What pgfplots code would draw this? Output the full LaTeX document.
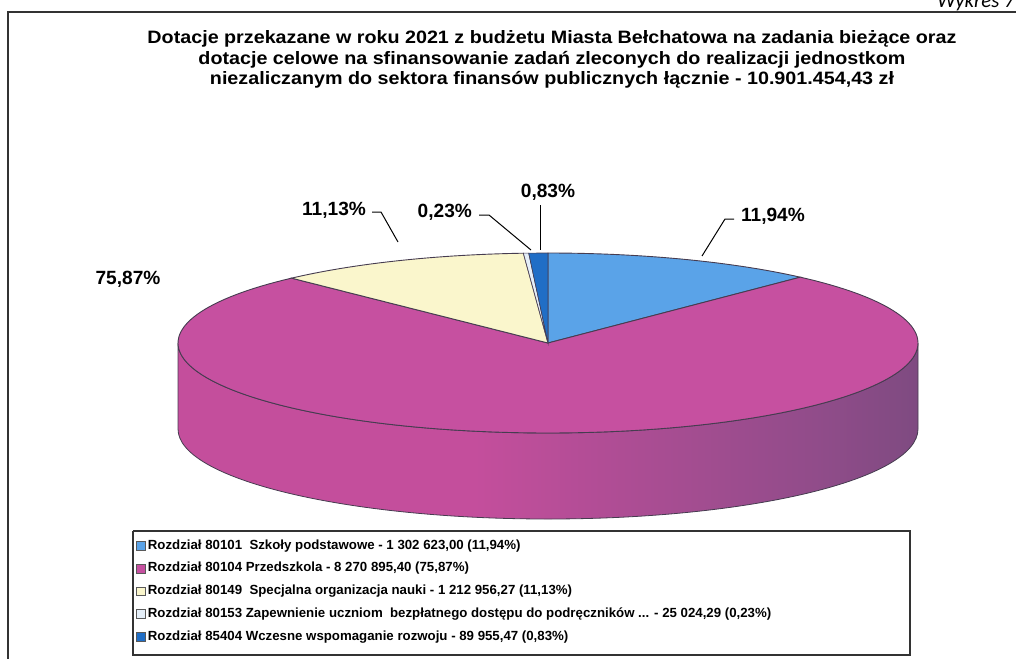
\documentclass[border=0pt]{standalone}
\usepackage{pgfplots}
\pgfplotsset{compat=1.18}
\usepackage{fontspec}
\setmainfont{Liberation Sans}
\newfontfamily\wfont{Carlito}
\definecolor{cA}{RGB}{90,163,232}
\definecolor{cB}{RGB}{198,80,160}
\definecolor{cC}{RGB}{250,246,204}
\definecolor{cD}{RGB}{228,238,248}
\definecolor{cE}{RGB}{32,110,198}
\definecolor{sideL}{RGB}{196,78,156}
\definecolor{sideM}{RGB}{145,76,138}
\definecolor{sideR}{RGB}{100,72,116}
\definecolor{edge}{RGB}{70,60,80}
\pgfdeclarehorizontalshading{pieside}{100bp}{color(0bp)=(sideL); color(45bp)=(sideL); color(68bp)=(sideM); color(85bp)=(sideR); color(100bp)=(sideR)}
\begin{document}
\begin{tikzpicture}
% slice shares (%)
\def\pA{11.94}\def\pB{75.87}\def\pC{11.13}\def\pD{0.23}\def\pE{0.83}
\pgfmathsetmacro\aA{90-3.6*\pA}
\pgfmathsetmacro\aB{\aA-3.6*\pB}
\pgfmathsetmacro\aC{\aB-3.6*\pC}
\pgfmathsetmacro\aD{\aC-3.6*\pD}
\pgfmathsetmacro\aE{\aD-3.6*\pE}
\begin{axis}[name=ax, scale only axis, width=508bp, height=329.5bp,
  xmin=0, xmax=1016, ymin=0, ymax=659, y dir=reverse, hide axis, clip=false,
  legend style={at={(axis cs:136,538)}, anchor=north west, draw=none, fill=none,
    font=\fontsize{6.65}{7.4}\selectfont\bfseries, row sep=4.1bp, inner sep=0pt,
    nodes={inner xsep=1pt, inner ysep=0.5pt}},
  legend cell align=left,
  legend image code/.code={\draw[#1, draw=black!65, line width=0.35bp] (0bp,-2.2bp) rectangle (4.4bp,2.2bp);},
]
% side wall
\addplot[forget plot, shading=pieside, shade, draw=edge, line width=0.4bp, domain=180:360, samples=80, variable=\t]
  ({548+370*cos(\t)},{343-90*sin(\t)}) -- (918,429) arc[start angle=0, end angle=-180, x radius=185bp, y radius=45bp] -- cycle;
% top face
\addplot[fill=cA, draw=edge, line width=0.45bp, domain=\aA:90, samples=40, variable=\t]
  ({548+370*cos(\t)},{343-90*sin(\t)}) -- (548,343) -- cycle;
\addlegendentry{Rozdział 80101\ \ Szkoły podstawowe - 1 302 623,00 (11,94\%)}
\addplot[fill=cB, draw=edge, line width=0.45bp, domain=\aB:\aA, samples=160, variable=\t]
  ({548+370*cos(\t)},{343-90*sin(\t)}) -- (548,343) -- cycle;
\addlegendentry{Rozdział 80104 Przedszkola - 8 270 895,40 (75,87\%)}
\addplot[fill=cC, draw=edge, line width=0.45bp, domain=\aC:\aB, samples=30, variable=\t]
  ({548+370*cos(\t)},{343-90*sin(\t)}) -- (548,343) -- cycle;
\addlegendentry{Rozdział 80149\ \ Specjalna organizacja nauki - 1 212 956,27 (11,13\%)}
\addplot[fill=cD, draw=edge, line width=0.3bp, domain=\aD:\aC, samples=4, variable=\t]
  ({548+370*cos(\t)},{343-90*sin(\t)}) -- (548,343) -- cycle;
\addlegendentry{Rozdział 80153 Zapewnienie uczniom\ \ bezpłatnego dostępu do podręczników ... - 25 024,29 (0,23\%)}
\addplot[fill=cE, draw=edge, line width=0.3bp, domain=\aE:\aD, samples=6, variable=\t]
  ({548+370*cos(\t)},{343-90*sin(\t)}) -- (548,343) -- cycle;
\addlegendentry{Rozdział 85404 Wczesne wspomaganie rozwoju - 89 955,47 (0,83\%)}
% leader lines
\addplot[forget plot, black, line width=0.5bp] coordinates {(540,205) (540,250)};
\addplot[forget plot, black, line width=0.5bp] coordinates {(479,215) (489,215) (531,250)};
\addplot[forget plot, black, line width=0.5bp] coordinates {(372,212) (381,212) (398,242)};
\addplot[forget plot, black, line width=0.5bp] coordinates {(734,219) (725,219) (702,256)};
% frame and legend box
\addplot[forget plot, black!80, line width=0.8bp] coordinates {(1016,12) (8,12) (8,659)};
\addplot[forget plot, black!80, line width=0.8bp] coordinates {(133,531) (910,531) (910,655) (133,655) (133,531)};
\end{axis}
% texts
\node[font=\fontsize{9}{9.4}\selectfont\bfseries, align=center] at (ax.north west) [xshift=276bp, yshift=-30.2bp] {\scalebox{1.1}[1]{\begin{tabular}{@{}c@{}}Dotacje przekazane w roku 2021 z budżetu Miasta Bełchatowa na zadania bieżące oraz\\[0.9bp]dotacje celowe na sfinansowanie zadań zleconych do realizacji jednostkom\\[0.9bp]niezaliczanym do sektora finansów publicznych łącznie - 10.901.454,43 zł\end{tabular}}};
\node[font=\fontsize{10.5}{12}\selectfont\wfont\itshape, anchor=base] at (ax.north west) [xshift=488bp, yshift=-4bp] {Wykres 7};
\begin{scope}[font=\fontsize{9.6}{10}\selectfont\bfseries]
\node at (ax.north west) [xshift=274bp, yshift=-96bp] {0,83\%};
\node[anchor=east] at (ax.north west) [xshift=239.5bp, yshift=-106bp] {0,23\%};
\node[anchor=east] at (ax.north west) [xshift=186.5bp, yshift=-105bp] {11,13\%};
\node[anchor=west] at (ax.north west) [xshift=367bp, yshift=-108bp] {11,94\%};
\node at (ax.north west) [xshift=64bp, yshift=-139.5bp] {75,87\%};
\end{scope}
\pgfresetboundingbox
\path[use as bounding box] (ax.south west) rectangle (ax.north east);
\end{tikzpicture}
\end{document}
